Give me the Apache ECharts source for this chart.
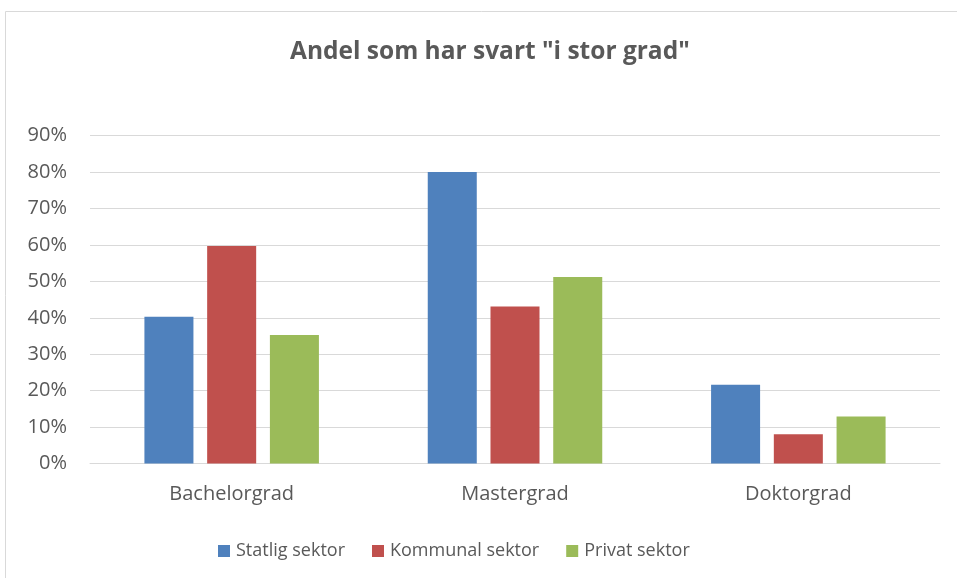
<!DOCTYPE html>
<html><head><meta charset="utf-8">
<script src="https://cdn.jsdelivr.net/npm/echarts@6/dist/echarts.min.js"></script>
<style>html,body{margin:0;padding:0;background:#fff}#c{width:957px;height:578px}</style>
</head><body><div id="c"></div>
<script>
const categories = ["Bachelorgrad", "Mastergrad", "Doktorgrad"];
const statlig = [40.3, 80.0, 21.6];
const kommunal = [59.7, 43.1, 8.0];
const privat = [35.3, 51.2, 12.9];
const seriesNames = ["Statlig sektor", "Kommunal sektor", "Privat sektor"];
const colors = ["#4F81BD", "#C0504D", "#9BBB59"];
const font = "'Open Sans', sans-serif";
const chart = echarts.init(document.getElementById('c'));
chart.setOption({
  animation: false,
  graphic: [{type:'rect', shape:{x:5.5,y:11.5,width:1000,height:1000}, style:{fill:'none', stroke:'#d9d9d9', lineWidth:1}, silent:true}],
  title: {text: 'Andel som har svart "i stor grad"', left: 285, top: 35, 
    textStyle: {fontFamily: font, fontSize: 24.5, fontWeight: 'bold', color: '#595959'}},
  legend: {bottom: 13, left: 213, itemWidth: 12, itemHeight: 12, itemGap: 27,
    icon: 'rect', textStyle: {fontFamily: font, fontSize: 18, color: '#595959', padding:[0,0,0,1]}},
  grid: {left: 90, right: 17, top: 135.7, bottom: 114.5, containLabel: false},
  xAxis: {type: 'category', data: categories,
    axisLine: {lineStyle: {color: '#d9d9d9', width: 1}}, axisTick: {show: false},
    axisLabel: {fontFamily: font, fontSize: 20, color: '#595959', margin: 21}},
  yAxis: {type: 'value', min: 0, max: 90, interval: 10,
    axisLine: {show: false}, axisTick: {show: false},
    splitLine: {lineStyle: {color: '#d9d9d9', width: 1}},
    axisLabel: {fontFamily: font, fontSize: 20, color: '#595959', margin: 23, formatter: '{value}%'}},
  series: [statlig, kommunal, privat].map((d, i) => ({
    name: seriesNames[i], type: 'bar', data: d, barWidth: '17.3%', barGap: '28%',
    itemStyle: {color: colors[i]}
  }))
});
</script></body></html>
